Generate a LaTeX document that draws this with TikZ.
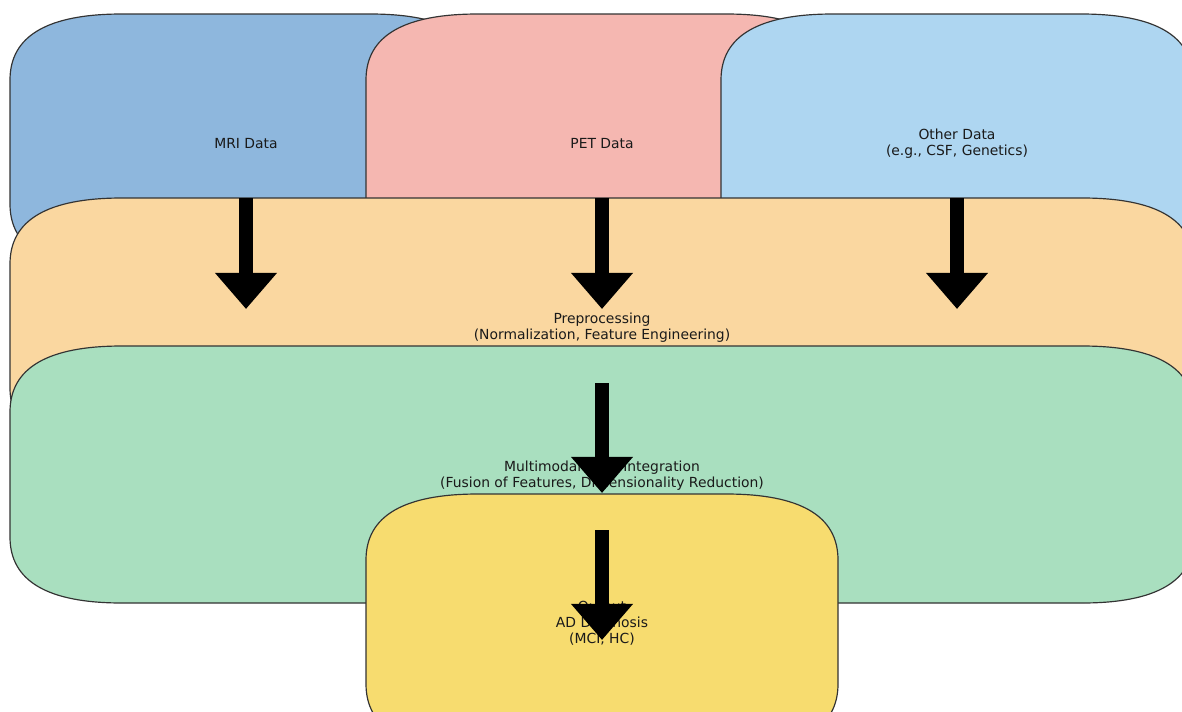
\documentclass[tikz,border=0pt]{standalone}
\usepackage{fontspec}
\setmainfont{DejaVu Sans}
\usetikzlibrary{arrows.meta}
\definecolor{edgec}{HTML}{333333}
\definecolor{mric}{HTML}{8EB7DD}
\definecolor{petc}{HTML}{F5B7B1}
\definecolor{othc}{HTML}{AED6F1}
\definecolor{prec}{HTML}{FAD7A0}
\definecolor{intc}{HTML}{A9DFBF}
\definecolor{outc}{HTML}{F7DC6F}
\definecolor{txtc}{HTML}{1A1A1A}
\newcommand\rx{112}
\newcommand\ry{66}
\newcommand\myrbox[5]{%
  \filldraw[boxline, fill=#5]
  ({#1+\rx},{#2}) -- ({#3-\rx},{#2})
  .. controls ({#3-\rx/3},{#2}) and ({#3},{#2+\ry/3}) .. ({#3},{#2+\ry})
  -- ({#3},{#4-\ry})
  .. controls ({#3},{#4-\ry/3}) and ({#3-\rx/3},{#4}) .. ({#3-\rx},{#4})
  -- ({#1+\rx},{#4})
  .. controls ({#1+\rx/3},{#4}) and ({#1},{#4-\ry/3}) .. ({#1},{#4-\ry})
  -- ({#1},{#2+\ry})
  .. controls ({#1},{#2+\ry/3}) and ({#1+\rx/3},{#2}) .. cycle;}
\begin{document}
\begin{tikzpicture}[x=0.72pt,y=-0.72pt,
  boxline/.style={draw=edgec, line width=0.85pt},
  lbl/.style={text=txtc, align=center, inner sep=0pt, font=\fontsize{10}{11.6}\selectfont},
  bigarrow/.style={draw=black, line width=9.4pt,
    -{Triangle[width=43pt,length=26pt]}}]
\useasboundingbox (0,0) rectangle (1182,711);
\clip (0,0) rectangle (1182,711);
% boxes
\myrbox{10}{14}{482}{270}{mric}
\node[lbl] (mri) at (246,143.5) {MRI Data};
\myrbox{366}{14}{838}{270}{petc}
\node[lbl] (pet) at (602,143.5) {PET Data};
\myrbox{721}{14}{1193}{270}{othc}
\node[lbl] (other) at (957,143.5) {Other Data\\(e.g., CSF, Genetics)};
\myrbox{10}{198}{1194}{454}{prec}
\node[lbl] (pre) at (602,327.5) {Preprocessing\\(Normalization, Feature Engineering)};
\myrbox{10}{346}{1194}{603}{intc}
\node[lbl] (integ) at (602,475.5) {Multimodal Data Integration\\(Fusion of Features, Dimensionality Reduction)};
\myrbox{366}{494}{838}{750}{outc}
\node[lbl] (out) at (602,623.5) {Output\\AD Diagnosis\\(MCI, HC)};
% arrows
\coordinate (a1s) at (246,198); \coordinate (a1e) at (246,309);
\coordinate (a2s) at (602,198); \coordinate (a2e) at (602,309);
\coordinate (a3s) at (957,198); \coordinate (a3e) at (957,309);
\coordinate (a4s) at (602,383); \coordinate (a4e) at (602,493);
\coordinate (a5s) at (602,530); \coordinate (a5e) at (602,640);
\draw[bigarrow] (a1s) -- (a1e);
\draw[bigarrow] (a2s) -- (a2e);
\draw[bigarrow] (a3s) -- (a3e);
\draw[bigarrow] (a4s) -- (a4e);
\draw[bigarrow] (a5s) -- (a5e);
\end{tikzpicture}
\end{document}
